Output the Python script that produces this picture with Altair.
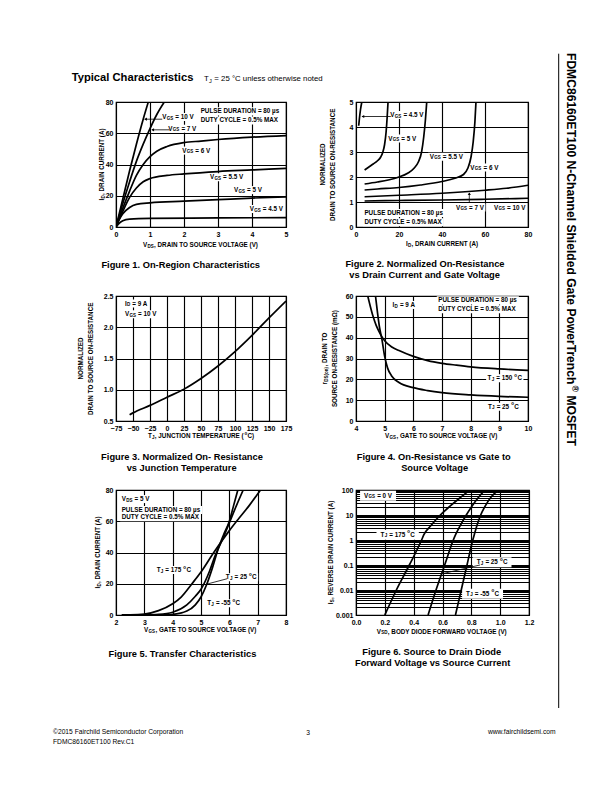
import re
import altair as alt
import pandas as pd

FONT = "Liberation Sans"

# ---------------- Figure 1: On-Region Characteristics ----------------
f1_10_x = [0, 0.2, 0.4, 0.6, 0.8, 0.95]
f1_10_y = [0, 18, 36, 53, 69, 80]
f1_7_x = [0, 0.2, 0.4, 0.6, 0.8, 1.0, 1.2, 1.42]
f1_7_y = [0, 15, 29, 42, 53, 63, 72, 80]
f1_6_x = [0, 0.2, 0.4, 0.6, 0.8, 1.0, 1.2, 1.5, 2.0, 2.5, 3.0, 4.0, 5.0]
f1_6_y = [0, 12, 23, 33, 40, 45, 48.5, 51.5, 54, 55, 56, 57.5, 58.5]
f1_55_x = [0, 0.2, 0.4, 0.6, 0.8, 1.0, 1.5, 2.0, 3.0, 4.0, 5.0]
f1_55_y = [0, 10, 19, 25, 29, 31, 33, 34, 35.5, 36.5, 37.5]
f1_5_x = [0, 0.1, 0.2, 0.4, 0.6, 1.0, 2.0, 3.0, 4.0, 5.0]
f1_5_y = [0, 5, 8.5, 12.5, 14.5, 15.5, 16.5, 17.5, 18.5, 19.3]
f1_45_x = [0, 0.1, 0.2, 0.4, 1.0, 3.0, 5.0]
f1_45_y = [0, 2.5, 4, 5, 5.5, 5.8, 6.0]

# ---------------- Figure 2: Normalized On-Resistance vs ID ----------------
f2_45_x = [1.25, 1.6, 2.1, 2.7]
f2_45_y = [4.05, 4.35, 4.7, 5.0]
f2_5_x = [4, 6, 8, 10, 11.5, 12.5, 13.3, 14.0, 14.5, 14.9]
f2_5_y = [2.28, 2.4, 2.52, 2.65, 2.8, 3.0, 3.3, 3.8, 4.4, 5.0]
f2_55_x = [4, 10, 15, 20, 24, 27, 29, 30.5, 31.5, 32.3, 32.9]
f2_55_y = [1.72, 1.8, 1.88, 2.0, 2.15, 2.35, 2.6, 3.0, 3.6, 4.3, 5.0]
f2_6_x = [4, 10, 20, 30, 40, 46, 50, 52, 53.5, 54.5, 55.3, 55.8]
f2_6_y = [1.48, 1.52, 1.58, 1.68, 1.82, 1.95, 2.1, 2.35, 2.8, 3.4, 4.2, 5.0]
f2_7_x = [4, 20, 40, 60, 70, 80]
f2_7_y = [1.21, 1.27, 1.35, 1.47, 1.55, 1.67]
f2_10_x = [4, 20, 40, 60, 80]
f2_10_y = [1.04, 1.06, 1.08, 1.11, 1.15]

# ---------------- Figure 3: Normalized On-Resistance vs TJ ----------------
f3_x = [-55, -50, -25, 0, 25, 50, 75, 100, 125, 150, 175]
f3_y = [0.6, 0.63, 0.75, 0.88, 1.01, 1.18, 1.38, 1.61, 1.87, 2.15, 2.42]

# ---------------- Figure 4: On-Resistance vs VGS ----------------
f4_150_x = [4.41, 4.5, 4.6, 4.7, 4.8, 4.9, 5.0, 5.25, 5.5, 6.0, 6.5, 7.0, 7.5, 8.0, 9.0, 10.0]
f4_150_y = [60, 55, 50, 46, 43, 40.5, 38.5, 35.5, 33.8, 31, 29, 27.7, 26.8, 26, 25, 24.3]
f4_25_x = [4.68, 4.75, 4.82, 4.9, 5.0, 5.1, 5.25, 5.5, 6.0, 6.5, 7.0, 8.0, 9.0, 10.0]
f4_25_y = [60, 52, 45, 39.5, 31, 25.5, 21.5, 18.5, 16, 14.6, 13.6, 12.5, 11.8, 11.4]

# ---------------- Figure 5: Transfer Characteristics ----------------
f5_175_x = [2.2, 2.5, 3.0, 3.5, 4.0, 4.3, 4.68, 5.0, 5.45, 6.0, 6.3, 6.7, 7.1]
f5_175_y = [0.1, 0.15, 0.6, 2.8, 7.2, 11.5, 20, 27.5, 40, 54, 61, 70, 80]
f5_25_x = [3.0, 3.5, 4.0, 4.5, 4.8, 5.0, 5.3, 5.5, 5.75, 6.0, 6.25, 6.49]
f5_25_y = [0.05, 0.4, 1.8, 6.5, 12, 16.5, 28, 38, 48, 59, 70, 80]
f5_m55_x = [3.5, 4.0, 4.5, 4.8, 5.0, 5.2, 5.4, 5.6, 5.8, 6.0, 6.15, 6.3]
f5_m55_y = [0.05, 0.4, 2.5, 6.5, 11.5, 19.5, 30, 42, 51.5, 60, 70, 80]

# ---------------- Figure 6: Source to Drain Diode ----------------
f6_175_x = [0.2, 0.28, 0.37, 0.455, 0.47, 0.52, 0.585, 0.65, 0.72, 0.78]
f6_175_y = [0.001, 0.01, 0.1, 1.0, 1.6, 3.8, 10, 22, 48, 90]
f6_25_x = [0.5, 0.555, 0.615, 0.675, 0.69, 0.72, 0.765, 0.81, 0.86, 0.89]
f6_25_y = [0.001, 0.01, 0.1, 1.0, 1.6, 3.5, 10, 25, 60, 95]
f6_m55_x = [0.69, 0.73, 0.77, 0.81, 0.82, 0.84, 0.865, 0.9, 0.94, 0.985]
f6_m55_y = [0.001, 0.01, 0.1, 1.0, 1.6, 4, 10, 25, 55, 95]

# ---------------- text metrics (Arial / Liberation Sans, per 1000 em) ----------------
BOLD = dict(zip("ABCDEFGHIJKLMNOPQRSTUVWXYZ",
                [722, 722, 722, 722, 667, 611, 778, 722, 278, 556, 722, 611, 833, 722, 778, 667, 778, 722, 667,
                 611, 722, 667, 944, 667, 667, 611]))
BOLD.update(zip("abcdefghijklmnopqrstuvwxyz",
                [556, 611, 556, 611, 556, 333, 611, 611, 278, 278, 556, 278, 889, 611, 611, 611, 611, 389, 556,
                 333, 611, 556, 778, 556, 556, 500]))
REG = dict(zip("ABCDEFGHIJKLMNOPQRSTUVWXYZ",
               [667, 667, 722, 722, 667, 611, 778, 722, 278, 500, 667, 556, 833, 722, 778, 667, 778, 722, 667,
                611, 722, 667, 944, 667, 667, 611]))
REG.update(zip("abcdefghijklmnopqrstuvwxyz",
               [556, 556, 500, 556, 556, 278, 556, 556, 222, 222, 500, 222, 833, 556, 556, 556, 556, 333, 500,
                278, 556, 500, 722, 500, 500, 500]))
for tbl in (BOLD, REG):
    tbl.update({c: 556 for c in "0123456789"})
    tbl.update({" ": 278, ",": 278, ".": 278, "-": 333, "(": 333, ")": 333, "=": 584, "°": 400,
                "Ω": 768, "µ": 577, "%": 889, "®": 737})

GAP = 0.3


def tw(s, size, weight):
    tbl = BOLD if weight == "bold" else REG
    return sum(tbl.get(c, 556) for c in s) * size / 1000.0


def parse(s):
    parts = []
    for m in re.finditer(r"_\{([^}]*)\}|\^\{([^}]*)\}|([^_^]+)", s):
        if m.group(1) is not None:
            parts.append((m.group(1), 1))
        elif m.group(2) is not None:
            parts.append((m.group(2), 2))
        else:
            parts.append((m.group(3), 0))
    return parts


def rich_width(s, size, weight="bold"):
    parts = parse(s)
    return sum(tw(t, size * 0.72 if k else size, weight) for t, k in parts) + GAP * (len(parts) - 1)


ONE = pd.DataFrame({"a": [0]})


def rich(s, size, ex, ey, data=ONE, align="left", weight="bold", angle=0, baseline="middle"):
    parts = parse(s)
    ssize = size * 0.72
    widths = [tw(t, ssize if k else size, weight) for t, k in parts]
    total = sum(widths) + GAP * (len(parts) - 1)
    cum = {"left": 0.0, "center": -total / 2.0, "right": -total}[align]
    out = []
    for (t, k), wd in zip(parts, widths):
        fs = ssize if k else size
        dy = 0.0 if k == 0 else (size * 0.26 if k == 1 else -size * 0.36)
        lead = len(t) - len(t.lstrip(" "))
        shift = lead * tw(" ", fs, weight)
        props = dict(text=t.strip(" "), font=FONT, fontSize=fs, fontWeight=weight, align="left",
                     baseline=baseline, dx=round(cum + shift, 2), dy=round(dy, 2), color="black")
        if angle:
            props["angle"] = angle
        out.append(alt.Chart(data).mark_text(**props).encode(x=ex, y=ey))
        cum += wd + GAP
    return out


def ptext(s, x, y, size, weight="normal", align="left", baseline="middle", angle=0):
    return rich(s, size, alt.value(x), alt.value(y), align=align, weight=weight, angle=angle, baseline=baseline)


def curves_df(curves):
    rows = []
    for name, xs, ys in curves:
        for i, (x, y) in enumerate(zip(xs, ys)):
            rows.append({"curve": name, "x": x, "y": y, "order": i})
    return pd.DataFrame(rows)


LBL = 6.3
TTL = 6.3


def boxes(items, al, X, Y, pad, bh):
    rows = []
    for t, x, y in items:
        wd = rich_width(t, LBL) + 2 * pad
        a = bh / wd
        if al == "center":
            l, r = -1.0, 1.0
        else:
            l, r = -2 * pad / wd, 2 - 2 * pad / wd
        path = f"M{l:.4f},{-a:.4f}L{r:.4f},{-a:.4f}L{r:.4f},{a:.4f}L{l:.4f},{a:.4f}Z"
        rows.append({"x": x, "y": y, "shape": path, "size": wd * wd})
    return alt.Chart(pd.DataFrame(rows)).mark_point(
        filled=True, color="white", opacity=1, strokeWidth=0
    ).encode(x=X, y=Y, shape=alt.Shape("shape:N", scale=None), size=alt.Size("size:Q", scale=None))


def panel(w, h, X, Y, curves, clabels, llabels, arrows, heads, caption, cap_x, cap_y,
          xtitle, ty, ytitles, tx, pad=1.5, bh=8, extra=()):
    layers = []
    for items, al in ((clabels, "center"), (llabels, "left")):
        if items:
            layers.append(boxes(items, al, X, Y, pad, bh))
    layers.append(alt.Chart(curves_df(curves)).mark_line(
        color="black", strokeWidth=1.7, interpolate="monotone", clip=True
    ).encode(x=X, y=Y, detail="curve:N", order="order:Q"))
    if arrows:
        adf = pd.DataFrame([{"x": a, "y": b, "x2": c, "y2": d} for a, b, c, d in arrows])
        layers.append(alt.Chart(adf).mark_rule(color="black", strokeWidth=0.8).encode(
            x=X, y=Y, x2="x2:Q", y2="y2:Q"))
    if heads:
        hdf = pd.DataFrame([{"x": a, "y": b, "s": s} for a, b, s in heads])
        layers.append(alt.Chart(hdf).mark_point(filled=True, color="black", size=10, opacity=1).encode(
            x=X, y=Y, shape=alt.Shape("s:N", scale=None)))
    for items, al in ((clabels, "center"), (llabels, "left")):
        for t, x, y in items:
            layers.extend(rich(t, LBL, X, Y, data=pd.DataFrame({"x": [x], "y": [y]}), align=al))
    # axis titles
    layers.extend(ptext(xtitle, w / 2, h + ty, TTL, "bold", "center"))
    n = len(ytitles)
    for i, line in enumerate(ytitles):
        layers.extend(ptext(line, tx + (i - (n - 1) / 2) * 9.5, h / 2, TTL, "bold", "center", angle=270))
    for i, line in enumerate(caption):
        layers.extend(ptext(line, cap_x, cap_y + 11 * i, 9.3, "bold", "center"))
    layers.extend(extra)
    return alt.layer(*layers).properties(width=w, height=h)


def xaxis(values, fmt="d"):
    return alt.Axis(values=values, title=None, format=fmt, labelFlush=False, labelOverlap=False)


def yaxis(values, fmt="d", expr=None):
    kw = dict(values=values, title=None, format=fmt, labelOverlap=False, labelFlush=False)
    if expr:
        kw["labelExpr"] = expr
    return alt.Axis(**kw)


def sc(dom, typ="linear"):
    return alt.Scale(domain=dom, nice=False, zero=False, type=typ)


PULSE = "PULSE DURATION = 80 µs"
DUTY = "DUTY CYCLE = 0.5% MAX"

# ---- page level decorations (relative to figure 1 plot origin) ----
page = [
    alt.Chart(ONE).mark_rule(color="white", strokeWidth=1).encode(
        x=alt.value(-120), x2=alt.value(-119), y=alt.value(-106)),
    alt.Chart(ONE).mark_rule(color="black", strokeWidth=1).encode(
        x=alt.value(442.7), y=alt.value(-48.3), y2=alt.value(606)),
]
page += ptext("Typical Characteristics", -44.3, -21, 11.2, "bold", "left", "alphabetic")
page += ptext("T_{J} = 25 °C unless otherwise noted", 88, -21, 7.8, "normal", "left", "alphabetic")
page += ptext("FDMC86160ET100 N-Channel Shielded Gate PowerTrench^{®} MOSFET", 455, -49, 12.1, "bold",
              "left", "middle", 90)
page += ptext("©2015 Fairchild Semiconductor Corporation", -63, 630, 6.7)
page += ptext("FDMC86160ET100 Rev.C1", -63, 640, 6.7)
page += ptext("3", 192, 631, 6.7, "normal", "center")
page += ptext("www.fairchildsemi.com", 440, 630, 6.7, "normal", "right")

# ---- Figure 1 ----
W1, H = 170, 125
X1 = alt.X("x:Q", scale=sc([0, 5]), axis=xaxis([0, 1, 2, 3, 4, 5]))
Y1 = alt.Y("y:Q", scale=sc([0, 80]), axis=yaxis([0, 20, 40, 60, 80]))
p1 = panel(
    W1, H, X1, Y1,
    [("10", f1_10_x, f1_10_y), ("7", f1_7_x, f1_7_y), ("6", f1_6_x, f1_6_y),
     ("5.5", f1_55_x, f1_55_y), ("5", f1_5_x, f1_5_y), ("4.5", f1_45_x, f1_45_y)],
    [("V_{GS} = 10 V", 1.82, 70.4), ("V_{GS} = 7 V", 1.95, 62.9), ("V_{GS} = 6 V", 2.36, 48.9),
     ("V_{GS} = 5.5 V", 3.25, 31.8), ("V_{GS} = 5 V", 3.88, 23.6), ("V_{GS} = 4.5 V", 4.42, 11.6)],
    [(PULSE, 2.49, 74), (DUTY, 2.49, 68.2)],
    [(1.36, 69.0, 0.85, 69.0), (1.57, 62.2, 1.06, 62.2)],
    [(0.87, 69.0, "triangle-left"), (1.08, 62.2, "triangle-left")],
    ["Figure 1.  On-Region Characteristics"], 66, 163,
    "V_{DS}, DRAIN TO SOURCE VOLTAGE (V)", 18, ["I_{D}, DRAIN CURRENT (A)"], -14, extra=page)

# ---- Figure 2 ----
W2 = 172
X2 = alt.X("x:Q", scale=sc([0, 80]), axis=xaxis([0, 20, 40, 60, 80]))
Y2 = alt.Y("y:Q", scale=sc([0, 5]), axis=yaxis([0, 1, 2, 3, 4, 5]))
p2 = panel(
    W2, H, X2, Y2,
    [("4.5", f2_45_x, f2_45_y), ("5", f2_5_x, f2_5_y), ("5.5", f2_55_x, f2_55_y),
     ("6", f2_6_x, f2_6_y), ("7", f2_7_x, f2_7_y), ("10", f2_10_x, f2_10_y)],
    [("V_{GS} = 4.5 V", 23.7, 4.48), ("V_{GS} = 5 V", 21.5, 3.54), ("V_{GS} = 5.5 V", 42, 2.81),
     ("V_{GS} = 6 V", 59.7, 2.38), ("V_{GS} = 7 V", 53, 0.78), ("V_{GS} = 10 V", 71.5, 0.78)],
    [(PULSE, 3.9, 0.56), (DUTY, 3.9, 0.19)],
    [(16.2, 4.42, 2.8, 4.42), (52.7, 1.0, 52.7, 1.36)],
    [(3.2, 4.42, "triangle-left"), (52.7, 1.33, "triangle-up")],
    ["Figure 2. Normalized On-Resistance", "vs Drain Current and Gate Voltage"], 69, 162.3,
    "I_{D}, DRAIN CURRENT (A)", 17, ["NORMALIZED", "DRAIN TO SOURCE ON-RESISTANCE"], -28)

# ---- Figure 3 ----
X3 = alt.X("x:Q", scale=sc([-75, 175]), axis=xaxis(list(range(-75, 176, 25))))
Y3 = alt.Y("y:Q", scale=sc([0.5, 2.5]), axis=yaxis([0.5, 1.0, 1.5, 2.0, 2.5], ".1f"))
p3 = panel(
    W1, H, X3, Y3,
    [("r", f3_x, f3_y)],
    [],
    [("I_{D} = 9 A", -61.8, 2.38), ("V_{GS} = 10 V", -61.8, 2.21)],
    [], [],
    ["Figure 3. Normalized On- Resistance", "vs Junction Temperature"], 66, 161,
    "T_{J}, JUNCTION TEMPERATURE (^{o}C)", 15, ["NORMALIZED", "DRAIN TO SOURCE ON-RESISTANCE"], -30)

# ---- Figure 4 ----
X4 = alt.X("x:Q", scale=sc([4, 10]), axis=xaxis([4, 5, 6, 7, 8, 9, 10]))
Y4 = alt.Y("y:Q", scale=sc([0, 60]), axis=yaxis([0, 10, 20, 30, 40, 50, 60]))
p4 = panel(
    W2, H, X4, Y4,
    [("150", f4_150_x, f4_150_y), ("25", f4_25_x, f4_25_y)],
    [("I_{D} = 9 A", 5.67, 55.7), ("T_{J} = 150 ^{o}C", 9.19, 20.5), ("T_{J} = 25 ^{o}C", 9.14, 6.9)],
    [(PULSE, 6.87, 57.9), (DUTY, 6.87, 53.6)],
    [], [],
    ["Figure 4.  On-Resistance vs Gate to", "Source Voltage"], 79, 161,
    "V_{GS}, GATE TO SOURCE VOLTAGE (V)", 15, ["r_{DS(on)}, DRAIN TO", "SOURCE ON-RESISTANCE (mΩ)"], -26)

# ---- Figure 5 ----
X5 = alt.X("x:Q", scale=sc([2, 8]), axis=xaxis([2, 3, 4, 5, 6, 7, 8]))
Y5 = alt.Y("y:Q", scale=sc([0, 80]), axis=yaxis([0, 20, 40, 60, 80]))
p5 = panel(
    W1, H, X5, Y5,
    [("175", f5_175_x, f5_175_y), ("25", f5_25_x, f5_25_y), ("-55", f5_m55_x, f5_m55_y)],
    [("T_{J} = 175 ^{o}C", 4.04, 28.8), ("T_{J} = 25 ^{o}C", 6.42, 24.1), ("T_{J} = -55 ^{o}C", 5.8, 7.5)],
    [("V_{DS} = 5 V", 2.2, 74.2), (PULSE, 2.2, 67.2), (DUTY, 2.2, 62.5)],
    [(5.92, 23.2, 5.15, 19.5)], [],
    ["Figure 5.  Transfer Characteristics"], 68, 163.7,
    "V_{GS}, GATE TO SOURCE VOLTAGE (V)", 15, ["I_{D}, DRAIN CURRENT (A)"], -18)

# ---- Figure 6 ----
W6 = 173
f6_yvals = [d * k for d in [0.001, 0.01, 0.1, 1, 10] for k in range(1, 10)] + [100]
f6_expr = ("datum.value == 100 ? '100' : datum.value == 10 ? '10' : datum.value == 1 ? '1' : "
           "datum.value == 0.1 ? '0.1' : datum.value == 0.01 ? '0.01' : datum.value == 0.001 ? '0.001' : ''")
X6 = alt.X("x:Q", scale=sc([0, 1.2]), axis=xaxis([0, 0.2, 0.4, 0.6, 0.8, 1.0, 1.2], ".1f"))
Y6 = alt.Y("y:Q", scale=sc([0.001, 100], "log"), axis=yaxis(f6_yvals, expr=f6_expr))
p6 = panel(
    W6, H, X6, Y6,
    [("175", f6_175_x, f6_175_y), ("25", f6_25_x, f6_25_y), ("-55", f6_m55_x, f6_m55_y)],
    [("V_{GS} = 0 V", 0.153, 59), ("T_{J} = 175 ^{o}C", 0.289, 1.64), ("T_{J} = 25 ^{o}C", 0.944, 0.128),
     ("T_{J} = -55 ^{o}C", 0.878, 0.0071)],
    [],
    [(0.6, 0.045, 0.86, 0.1)], [],
    ["Figure 6.  Source to Drain Diode", "Forward Voltage vs Source Current"], 77, 161.7,
    "V_{SD}, BODY DIODE FORWARD VOLTAGE (V)", 16.6, ["I_{S}, REVERSE DRAIN CURRENT (A)"], -25,
    pad=4, bh=10)

chart = alt.concat(
    p1, p2, p3, p4, p5, p6, columns=2, spacing={"row": 69, "column": 70}, bounds="flush"
).properties(padding={"left": -14, "top": -14, "right": 0, "bottom": 0}).configure_view(
    stroke="black", strokeWidth=1.2
).configure_axis(
    labelFont=FONT, labelFontSize=7, labelFontWeight="bold", labelColor="black",
    grid=True, gridColor="black", gridWidth=1.15, gridOpacity=1,
    domain=False, ticks=False, labelPadding=3
)

chart.save("out.html", embed_options={"renderer": "svg", "actions": False})
